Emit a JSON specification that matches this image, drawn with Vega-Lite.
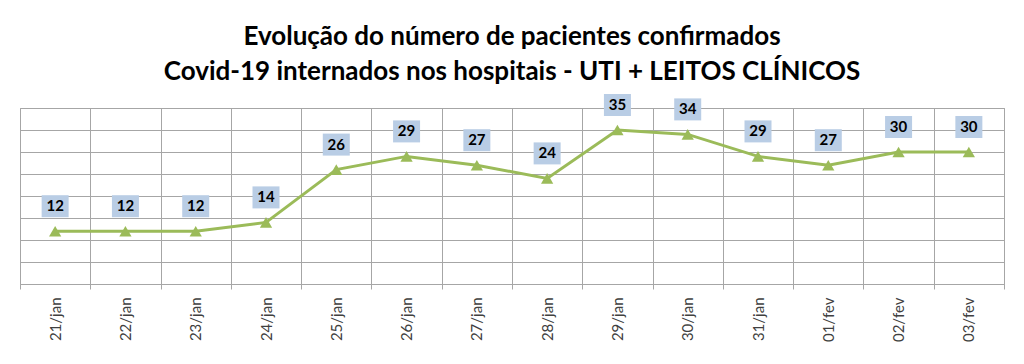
{
  "$schema": "https://vega.github.io/schema/vega-lite/v6.json",
  "width": 984,
  "height": 176,
  "autosize": {"type": "none"},
  "padding": {"left": 20, "top": 108, "right": 20, "bottom": 80},
  "background": "white",
  "title": {
    "text": ["Evolução do número de pacientes confirmados", "Covid-19 internados nos hospitais - UTI + LEITOS CLÍNICOS"],
    "anchor": "middle",
    "font": "Lato",
    "fontSize": 26,
    "fontWeight": "bold",
    "color": "#000000",
    "lineHeight": 35,
    "offset": 9
  },
  "config": {
    "view": {"stroke": "#a0a0a0", "strokeWidth": 1},
    "axis": {"gridColor": "#a6a6a6", "gridOpacity": 1, "gridWidth": 1, "domain": false}
  },
  "data": {
    "values": [
      {"dia": "21/jan", "pacientes": 12},
      {"dia": "22/jan", "pacientes": 12},
      {"dia": "23/jan", "pacientes": 12},
      {"dia": "24/jan", "pacientes": 14},
      {"dia": "25/jan", "pacientes": 26},
      {"dia": "26/jan", "pacientes": 29},
      {"dia": "27/jan", "pacientes": 27},
      {"dia": "28/jan", "pacientes": 24},
      {"dia": "29/jan", "pacientes": 35},
      {"dia": "30/jan", "pacientes": 34},
      {"dia": "31/jan", "pacientes": 29},
      {"dia": "01/fev", "pacientes": 27},
      {"dia": "02/fev", "pacientes": 30},
      {"dia": "03/fev", "pacientes": 30}
    ]
  },
  "encoding": {
    "x": {
      "field": "dia",
      "type": "ordinal",
      "sort": null,
      "scale": {"paddingInner": 0, "paddingOuter": 0},
      "axis": {
        "title": null,
        "grid": true,
        "tickBand": "extent",
        "ticks": true,
        "tickSize": 5,
        "tickColor": "#a6a6a6",
        "labelAngle": -90,
        "labelAlign": "right",
        "labelBaseline": "middle",
        "labelPadding": 8,
        "labelFont": "Lato",
        "labelFontSize": 15,
        "labelColor": "#404040"
      }
    },
    "y": {
      "field": "pacientes",
      "type": "quantitative",
      "scale": {"domain": [0, 40], "nice": false},
      "axis": {
        "title": null,
        "values": [0, 5, 10, 15, 20, 25, 30, 35, 40],
        "grid": true,
        "labels": false,
        "ticks": false
      }
    }
  },
  "layer": [
    {
      "mark": {"type": "line", "color": "#9bbb59", "strokeWidth": 3}
    },
    {
      "mark": {"type": "point", "shape": "triangle-up", "filled": true, "color": "#9bbb59", "opacity": 1, "size": 150}
    },
    {
      "mark": {
        "type": "point",
        "shape": "M-1,-0.815L1,-0.815L1,0.815L-1,0.815Z",
        "filled": true,
        "color": "#b9cde5",
        "opacity": 1,
        "size": 729,
        "yOffset": -25
      }
    },
    {
      "mark": {
        "type": "text",
        "font": "Lato",
        "fontSize": 15,
        "fontWeight": "bold",
        "color": "#000000",
        "baseline": "middle",
        "yOffset": -25
      },
      "encoding": {"text": {"field": "pacientes", "type": "quantitative"}}
    }
  ]
}
